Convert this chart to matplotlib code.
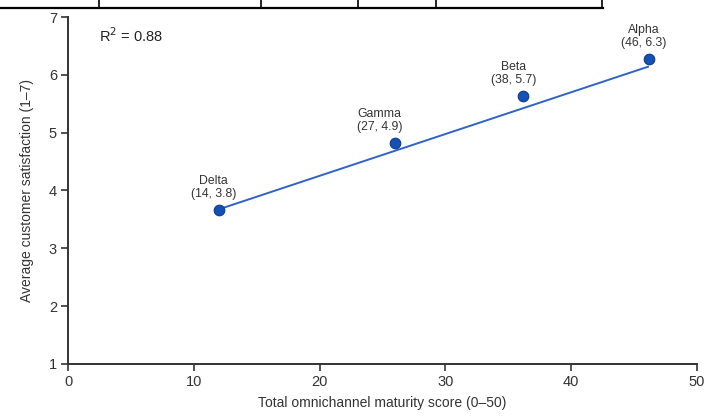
import numpy as np
import matplotlib
matplotlib.use('Agg')
import matplotlib.pyplot as plt
from matplotlib.lines import Line2D

plt.rcParams['font.family'] = ['Liberation Sans', 'DejaVu Sans']

# data
names = ['Delta', 'Gamma', 'Beta', 'Alpha']
labels = ['(14, 3.8)', '(27, 4.9)', '(38, 5.7)', '(46, 6.3)']
x_pts = [12.0, 26.0, 36.2, 46.2]
y_pts = [3.66, 4.82, 5.64, 6.28]
trend_x = [12.2, 46.1]
trend_y = [3.69, 6.14]
r2 = 0.88
x_ticks = [0, 10, 20, 30, 40, 50]
y_ticks = [1, 2, 3, 4, 5, 6, 7]
# label offsets in points (x, y)
lab_dx = [-4, -11, -7, -4]

fig = plt.figure(figsize=(7.19, 4.19), dpi=100)
ax = fig.add_axes([0.0946, 0.1313, 0.8748, 0.8281])

ax.plot(trend_x, trend_y, color='#2f63c8', lw=1.4, zorder=2)
ax.scatter(x_pts, y_pts, s=58, color='#1550b4', edgecolor='#0d3a8a', linewidth=0.8, zorder=3)

for n, l, x, y, dx in zip(names, labels, x_pts, y_pts, lab_dx):
    ax.annotate(n + '\n' + l, (x, y), xytext=(dx, 7), textcoords='offset points',
                ha='center', va='bottom', fontsize=8.8, color='#333333', linespacing=1.15)

ax.text(0.05, 0.945, r'R$^2$ = %.2f' % r2, transform=ax.transAxes, fontsize=10.5,
        color='#222222', va='center')

ax.set_xlim(0, 50)
ax.set_ylim(1, 7)
ax.set_xticks(x_ticks)
ax.set_yticks(y_ticks)
for s in ['top', 'right']:
    ax.spines[s].set_visible(False)
for s in ['left', 'bottom']:
    ax.spines[s].set_color('#333333')
    ax.spines[s].set_linewidth(1.4)
ax.tick_params(direction='out', length=5, width=1.2, color='#333333', labelsize=10.5,
               labelcolor='#333333', pad=3)
ax.set_xlabel('Total omnichannel maturity score (0–50)', fontsize=10, color='#333333', labelpad=5)
ax.set_ylabel('Average customer satisfaction (1–7)', fontsize=10, color='#333333', labelpad=11)

# table border at the top of the picture
fig.add_artist(Line2D([0, 603 / 719], [1 - 8 / 419, 1 - 8 / 419], color='black', lw=1.6))
for xd in [99, 261, 358, 436, 602]:
    fig.add_artist(Line2D([xd / 719, xd / 719], [1, 1 - 8 / 419], color='black', lw=1.2))

fig.savefig('out.png', dpi=100)
